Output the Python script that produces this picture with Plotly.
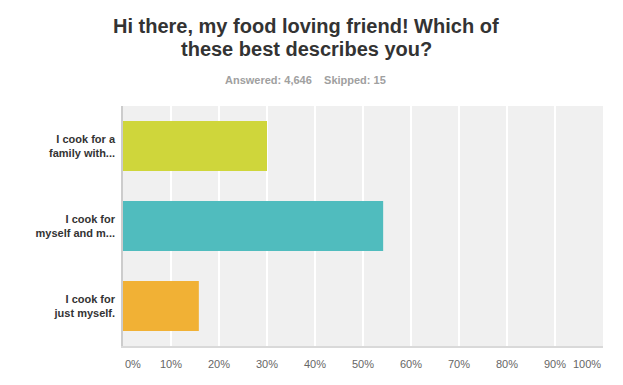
import plotly.graph_objects as go

categories = ["I cook for a<br>family with...", "I cook for<br>myself and m...", "I cook for<br>just myself."]
values = [30.0, 54.2, 15.8]
colors = ["#CFD63B", "#50BCBE", "#F1B135"]
tick_vals = [0, 10, 20, 30, 40, 50, 60, 70, 80, 90, 100]
tick_labels = ["0%", "10%", "20%", "30%", "40%", "50%", "60%", "70%", "80%", "90%", "100%"]

title_lines = ["Hi there, my food loving friend! Which of", "these best describes you?"]
subtitle_text = "Answered: 4,646&nbsp;&nbsp;&nbsp;&nbsp;Skipped: 15"

fig = go.Figure(go.Bar(
    x=values, y=categories, orientation="h",
    marker=dict(color=colors, line=dict(width=0)),
    hoverinfo="skip",
))

font_family = "Liberation Sans, Arial, Helvetica, sans-serif"

# plot area in pixels: x 123..603, y 106..346
L, R, T, B = 123, 20, 106, 39
PW, PH = 623 - L - R, 385 - T - B


def px_x(px):
    return (px - L) / PW


def px_y(py):
    return (385 - B - py) / PH


annotations = []
for i, line in enumerate(title_lines):
    annotations.append(dict(
        text="<b>" + line + "</b>", xref="paper", yref="paper", x=px_x(306), y=px_y(39 + 23 * i),
        xanchor="center", yanchor="bottom", showarrow=False, align="center",
        font=dict(family=font_family, size=20, color="#333333"),
    ))
annotations.append(dict(
    text="<b>" + subtitle_text + "</b>", xref="paper", yref="paper", x=px_x(305),
    y=px_y(80), xanchor="center", yanchor="middle", showarrow=False,
    font=dict(family=font_family, size=11, color="#A0A0A0"),
))
for v, t in zip(tick_vals, tick_labels):
    anchor = "left" if v == tick_vals[0] else ("right" if v == tick_vals[-1] else "center")
    annotations.append(dict(
        text=t, x=v, xref="x", y=px_y(364), yref="paper", xanchor=anchor, yanchor="middle",
        showarrow=False, font=dict(family=font_family, size=11, color="#666666"),
    ))

fig.update_layout(
    template="none",
    width=623, height=385,
    margin=dict(l=L, r=R, t=T, b=B, autoexpand=False),
    paper_bgcolor="white", plot_bgcolor="#F0F0F0",
    bargap=0.375,
    showlegend=False,
    font=dict(family=font_family, color="#333333"),
    annotations=annotations,
    xaxis=dict(range=[0, 100], tickvals=tick_vals, showticklabels=False, ticks="",
               showgrid=True, gridcolor="#FFFFFF", gridwidth=1.5, zeroline=False,
               showline=True, linecolor="#D9D9D9", linewidth=2, fixedrange=True,
               automargin=False),
    yaxis=dict(autorange="reversed", showgrid=False, zeroline=False,
               showline=True, linecolor="#CCCCCC", linewidth=1.5,
               ticks="outside", ticklen=4, tickcolor="rgba(0,0,0,0)",
               tickfont=dict(family=font_family, size=11, color="#333333"),
               fixedrange=True, automargin=False),
)
fig.update_yaxes(ticktext=["<b>" + c + "</b>" for c in categories], tickvals=categories)

fig.write_html("out.html", config={"displayModeBar": False},
               post_script="document.body.style.margin='0px';document.body.style.overflow='hidden';")
